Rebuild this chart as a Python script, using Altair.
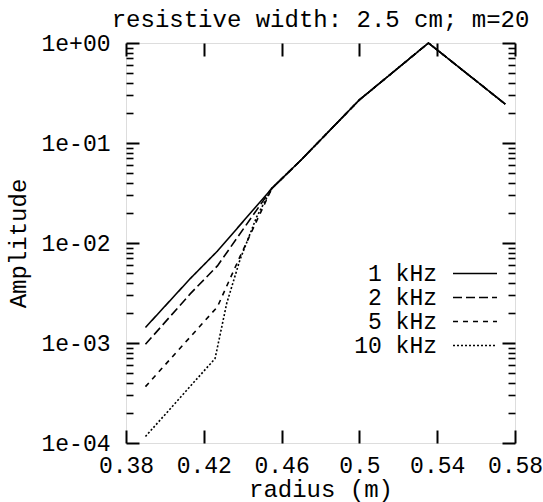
import altair as alt
import pandas as pd

series_names = ["1 kHz", "2 kHz", "5 kHz", "10 kHz"]

# shared outer part (all curves coincide)
upper_r = [0.47, 0.50, 0.5355, 0.575]
upper_a = [0.0676, 0.27, 1.0, 0.245]

r_1k = [0.39, 0.413, 0.427, 0.455]
a_1k = [1.43e-3, 4.4e-3, 8.3e-3, 0.0352]
r_2k = [0.39, 0.413, 0.427, 0.455]
a_2k = [9.7e-4, 3.1e-3, 5.9e-3, 0.0352]
r_5k = [0.39, 0.427, 0.4386, 0.455]
a_5k = [3.66e-4, 2.3e-3, 7.3e-3, 0.0352]
r_10k = [0.39, 0.4258, 0.4318, 0.4386, 0.4472, 0.455]
a_10k = [1.16e-4, 7.0e-4, 2.5e-3, 6.8e-3, 0.0183, 0.0352]

x_ticks = [0.38, 0.42, 0.46, 0.50, 0.54, 0.58]
y_ticks = [1e-4, 1e-3, 1e-2, 1e-1, 1.0]
y_tick_labels = ["1e-04", "1e-03", "1e-02", "1e-01", "1e+00"]
y_minor = [k * d for d in [1e-4, 1e-3, 1e-2, 1e-1] for k in range(2, 10)]

dash_range = [[1, 0], [9, 4], [5, 5], [2, 2]]

rows = []
for name, rr, aa in [("1 kHz", r_1k, a_1k), ("2 kHz", r_2k, a_2k),
                     ("5 kHz", r_5k, a_5k), ("10 kHz", r_10k, a_10k)]:
    for r, a in zip(rr + upper_r, aa + upper_a):
        rows.append({"radius": r, "amp": a, "series": name})
df = pd.DataFrame(rows)

FONT = "Liberation Mono"
LABEL_SIZE = 23
TITLE_SIZE = 24
xscale = alt.Scale(domain=[0.38, 0.58], nice=False, zero=False)
yscale = alt.Scale(type="log", domain=[1e-4, 1.0], nice=False)

label_expr = "[" + ",".join("'%s'" % s for s in y_tick_labels) + "][round(log(datum.value)/LN10)+4]"

main = alt.Chart(df).mark_line(color="black", strokeWidth=1.6).encode(
    x=alt.X("radius:Q", scale=xscale,
            axis=alt.Axis(orient="bottom", values=x_ticks, ticks=False, domain=False,
                          grid=False, labelPadding=29, labelBaseline="alphabetic",
                          format="~g", labelFlush=False, labelOverlap=False,
                          labelFont=FONT, labelFontSize=LABEL_SIZE, labelColor="black",
                          title="radius (m)", titleFont=FONT, titleFontSize=TITLE_SIZE,
                          titleFontWeight="normal", titleColor="black",
                          titleBaseline="alphabetic", titleX=194.5, titleY=53,
                          titleAlign="center")),
    y=alt.Y("amp:Q", scale=yscale,
            axis=alt.Axis(orient="left", values=y_ticks, ticks=False, domain=False,
                          grid=False, labelPadding=16, labelExpr=label_expr,
                          labelOverlap=False, labelFlush=False,
                          labelFont=FONT, labelFontSize=LABEL_SIZE, labelColor="black",
                          title="Amplitude", titleFont=FONT, titleFontSize=TITLE_SIZE,
                          titleFontWeight="normal", titleColor="black",
                          titleBaseline="alphabetic", titleAngle=270, titleX=-101,
                          titleY=200, titleAlign="center")),
    strokeDash=alt.StrokeDash("series:N",
                              scale=alt.Scale(domain=series_names, range=dash_range),
                              sort=series_names,
                              legend=alt.Legend(title=None, orient="none", legendX=207.5,
                                                legendY=219, symbolType="M-4,0H4",
                                                symbolSize=121, labelAlign="right",
                                                labelOffset={"expr": "-49.5"},
                                                symbolOffset=130,
                                                labelFont=FONT,
                                                labelFontSize=LABEL_SIZE,
                                                labelColor="black",
                                                symbolStrokeColor="black",
                                                symbolStrokeWidth=1.6, rowPadding=0)),
)


def tick_layer(xaxis, yaxis):
    return alt.Chart(df).mark_line(opacity=0).encode(
        x=alt.X("radius:Q", scale=xscale, axis=xaxis),
        y=alt.Y("amp:Q", scale=yscale, axis=yaxis),
        detail="series:N",
    )


def tick_axis(orient, values, size, width):
    return alt.Axis(orient=orient, values=values, offset=-size, tickSize=size,
                    tickWidth=width, labels=False, domain=False, grid=False,
                    title=None, tickColor="black")


layers = [
    main,
    tick_layer(tick_axis("bottom", x_ticks, 13, 2), tick_axis("left", y_ticks, 13, 2)),
    tick_layer(tick_axis("top", x_ticks, 13, 2), tick_axis("right", y_ticks, 13, 2)),
    tick_layer(None, tick_axis("left", y_minor, 7, 1.6)),
    tick_layer(None, tick_axis("right", y_minor, 7, 1.6)),
]

chart = alt.layer(*layers).resolve_axis(x="independent", y="independent").properties(
    width=389, height=400,
    title=alt.Title("resistive width: 2.5 cm; m=20", font=FONT, fontSize=TITLE_SIZE,
                    fontWeight="normal", color="black", offset=0, frame="group",
                    anchor="middle"),
    autosize=alt.AutoSizeParams(type="none"),
    padding={"left": 126, "top": 43, "right": 28, "bottom": 59},
).configure_view(stroke="black", strokeWidth=2).configure(background="white")

chart.save("out.html", embed_options={"renderer": "svg", "actions": False})
